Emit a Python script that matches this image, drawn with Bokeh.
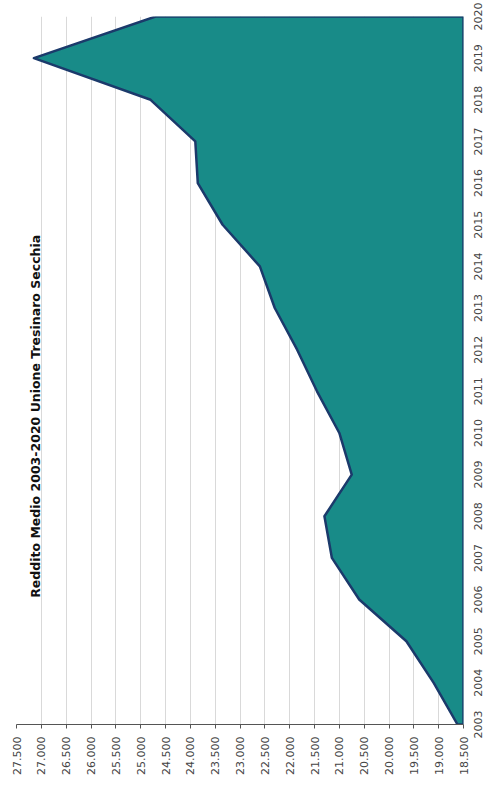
from math import pi
from bokeh.plotting import figure
from bokeh.layouts import row
from bokeh.models import Range1d, FixedTicker, Label, LinearAxis
from bokeh.core.properties import value
from bokeh.embed import file_html
from bokeh.resources import INLINE

years = [2003, 2004, 2005, 2006, 2007, 2008, 2009, 2010, 2011, 2012,
         2013, 2014, 2015, 2016, 2017, 2018, 2019, 2020]
reddito = [18620, 19100, 19650, 20600, 21150, 21300, 20750, 21000, 21450, 21850,
           22300, 22600, 23350, 23850, 23900, 24800, 27150, 24700]
base_value = 18500
value_ticks = [27500, 27000, 26500, 26000, 25500, 25000, 24500, 24000, 23500,
               23000, 22500, 22000, 21500, 21000, 20500, 20000, 19500, 19000, 18500]
value_tick_labels = ["27.500", "27.000", "26.500", "26.000", "25.500", "25.000",
                     "24.500", "24.000", "23.500", "23.000", "22.500", "22.000",
                     "21.500", "21.000", "20.500", "20.000", "19.500", "19.000", "18.500"]
year_labels = [str(y) for y in years]
title_text = "Reddito Medio 2003-2020 Unione Tresinaro Secchia"

H, W_TOTAL = 789, 485
W_MAIN = 471
W_SIDE = W_TOTAL - W_MAIN
TOP, BOTTOM, LEFT = 16, 65, 16
FRAME_RIGHT = 463
y0, y1 = years[0], years[-1]

p = figure(width=W_MAIN, height=H, output_backend="svg", toolbar_location=None,
           x_range=Range1d(27500, base_value), y_range=Range1d(y0, y1),
           x_axis_location="below", y_axis_location=None,
           min_border_left=LEFT, min_border_top=TOP,
           min_border_right=W_MAIN - FRAME_RIGHT, min_border_bottom=BOTTOM)
p.outline_line_color = None
p.background_fill_color = "white"
p.border_fill_color = "white"

# grid
p.xgrid.ticker = FixedTicker(ticks=value_ticks)
p.xgrid.grid_line_color = "#d9d9d9"
p.ygrid.grid_line_color = None

# area
xs = reddito + [base_value, base_value]
ys = years + [y1, y0]
p.patch(xs, ys, fill_color="#188b88", line_color="#1b3a6b", line_width=2.5,
        line_join="round")

# bottom axis
xa = p.xaxis[0]
xa.ticker = FixedTicker(ticks=value_ticks)
xa.major_label_overrides = {t: l for t, l in zip(value_ticks, value_tick_labels)}
xa.major_label_orientation = pi / 2
xa.major_label_text_font = "DejaVu Sans"
xa.major_label_text_font_size = "11px"
xa.major_label_text_color = "#444444"
xa.axis_line_color = "#555555"
xa.major_tick_line_color = "#555555"
xa.major_tick_in = 0
xa.major_tick_out = 4
xa.minor_tick_line_color = None
xa.major_label_standoff = 8

# title inside the plot
lbl = Label(x=27120, y=2010.4, text=title_text, angle=pi / 2,
            text_font="DejaVu Sans", text_font_size="12.5px", text_font_style="bold",
            text_color="#111111", text_align="center", text_baseline="middle")
p.add_layout(lbl)

px_per_year = (H - TOP - BOTTOM) / (y1 - y0)

try:
    p.frame_align = False
    side = figure(width=W_SIDE, height=H, output_backend="svg", toolbar_location=None,
                  x_range=Range1d(0, W_SIDE),
                  y_range=Range1d(y0 - BOTTOM / px_per_year, y1 + TOP / px_per_year),
                  x_axis_location=None, y_axis_location=None, min_border=0)
    side.frame_align = False
    side.outline_line_color = None
    side.grid.grid_line_color = None
    side.background_fill_color = "white"
    side.border_fill_color = "white"
    side.text(x=[477 - W_MAIN] * len(years), y=years, text=year_labels, angle=pi / 2,
              text_font=value("DejaVu Sans"), text_font_size="11px",
              text_color="#444444", text_align="center", text_baseline="middle")
    root = row(p, side, spacing=0)
except AttributeError:
    # fallback: single figure with a right axis whose labels are shifted to centre
    p.width = W_TOTAL
    p.min_border_right = W_TOTAL - FRAME_RIGHT
    shift = (4 * 0.636 * 11 / 2) / px_per_year
    p.extra_y_ranges = {"yl": Range1d(y0 + shift, y1 + shift)}
    ya = LinearAxis(ticker=FixedTicker(ticks=years), y_range_name="yl")
    ya.major_label_orientation = pi / 2
    ya.major_label_text_font = "DejaVu Sans"
    ya.major_label_text_font_size = "11px"
    ya.major_label_text_color = "#444444"
    ya.axis_line_color = None
    ya.major_tick_line_color = None
    ya.major_tick_out = 0
    ya.minor_tick_line_color = None
    ya.major_label_standoff = 7
    p.add_layout(ya, "right")
    root = p

open("out.html", "w").write(file_html(root, INLINE))
